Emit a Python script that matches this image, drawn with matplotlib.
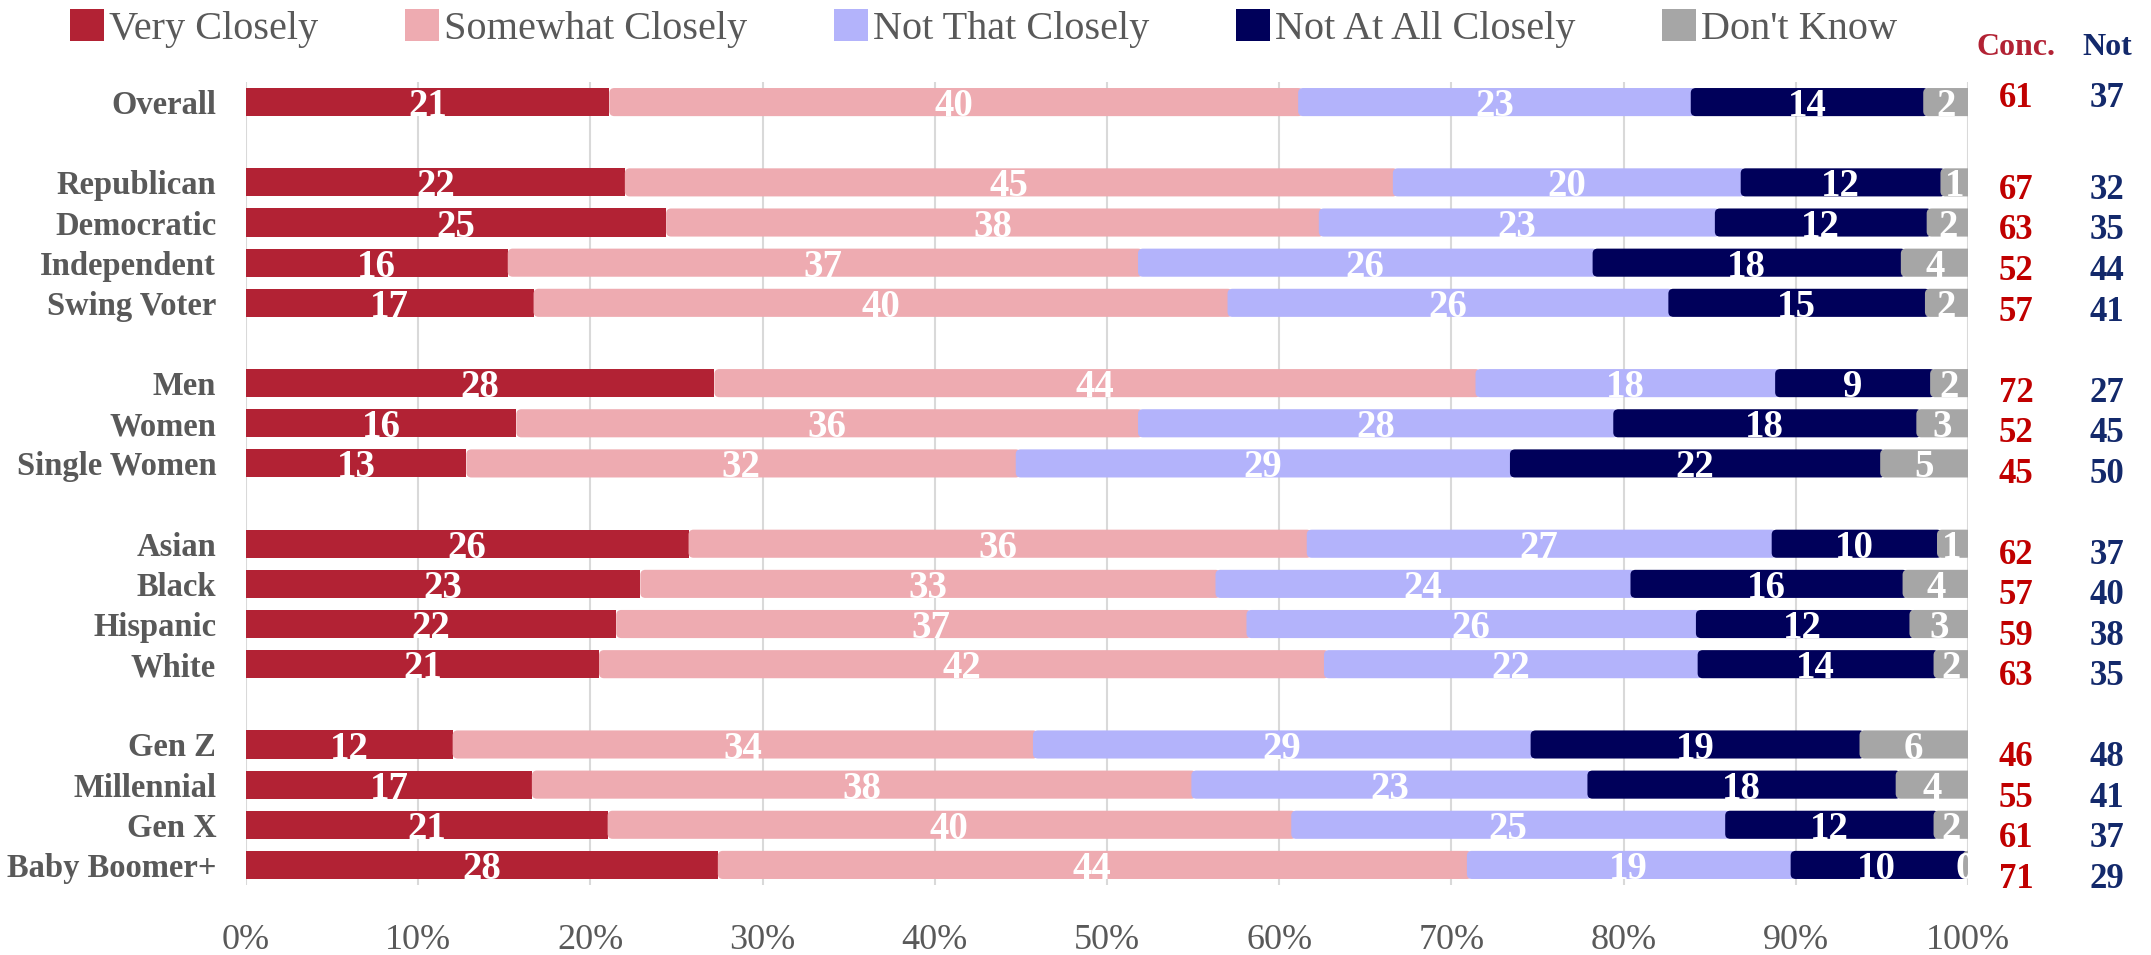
import matplotlib
matplotlib.use("Agg")
import matplotlib.pyplot as plt
from matplotlib.patches import Patch, FancyBboxPatch

# ---------------- data ----------------
categories = ["Overall",
              "Republican", "Democratic", "Independent", "Swing Voter",
              "Men", "Women", "Single Women",
              "Asian", "Black", "Hispanic", "White",
              "Gen Z", "Millennial", "Gen X", "Baby Boomer+"]
group_sizes = [1, 4, 3, 4, 4]

series_names = ["Very Closely", "Somewhat Closely", "Not That Closely",
                "Not At All Closely", "Don't Know"]

# segment widths (percent)
very     = [21.1, 22.0, 24.4, 15.2, 16.7, 27.2, 15.7, 12.8, 25.7, 22.9, 21.5, 20.5, 12.0, 16.6, 21.0, 27.4]
somewhat = [40.0, 44.6, 37.9, 36.6, 40.3, 44.2, 36.1, 31.9, 35.9, 33.4, 36.6, 42.1, 33.7, 38.3, 39.7, 43.5]
not_that = [22.8, 20.2, 23.0, 26.4, 25.6, 17.4, 27.6, 28.7, 27.0, 24.1, 26.1, 21.7, 28.9, 23.0, 25.2, 18.8]
not_all  = [13.5, 11.6, 12.3, 17.9, 14.9,  9.0, 17.6, 21.5,  9.6, 15.8, 12.4, 13.7, 19.1, 17.9, 12.1, 10.0]
dont_know= [ 2.6,  1.6,  2.5,  4.0,  2.5,  2.2,  3.0,  5.1,  1.7,  3.9,  3.4,  2.0,  6.3,  4.2,  2.0,  0.3]

# value labels printed on the segments
very_lbl     = [21, 22, 25, 16, 17, 28, 16, 13, 26, 23, 22, 21, 12, 17, 21, 28]
somewhat_lbl = [40, 45, 38, 37, 40, 44, 36, 32, 36, 33, 37, 42, 34, 38, 40, 44]
not_that_lbl = [23, 20, 23, 26, 26, 18, 28, 29, 27, 24, 26, 22, 29, 23, 25, 19]
not_all_lbl  = [14, 12, 12, 18, 15,  9, 18, 22, 10, 16, 12, 14, 19, 18, 12, 10]
dont_know_lbl= [ 2,  1,  2,  4,  2,  2,  3,  5,  1,  4,  3,  2,  6,  4,  2,  0]

conc_total = [61, 67, 63, 52, 57, 72, 52, 45, 62, 57, 59, 63, 46, 55, 61, 71]
not_total  = [37, 32, 35, 44, 41, 27, 45, 50, 37, 40, 38, 35, 48, 41, 37, 29]

xticks = [0, 10, 20, 30, 40, 50, 60, 70, 80, 90, 100]
xtick_labels = [f"{t}%" for t in xticks]

# ---------------- style ----------------
colors = ["#B22234", "#EEABB1", "#B3B3FB", "#00005A", "#A6A6A6"]
gray_txt = "#595959"
red_txt = "#C00000"
red_head = "#B22234"
navy_txt = "#13296B"

plt.rcParams["font.family"] = ["Liberation Serif", "DejaVu Serif"]

W, H = 2151, 955
fig = plt.figure(figsize=(W / 100, H / 100), dpi=100)
ax = fig.add_axes([246 / W, 1 - 885 / H, (1968 - 246) / W, (885 - 82) / H])

# slot positions (one empty slot between groups)
slots = []
s = 0
for g in group_sizes:
    for _ in range(g):
        slots.append(s)
        s += 1
    s += 1

series = [very, somewhat, not_that, not_all, dont_know]
labels = [very_lbl, somewhat_lbl, not_that_lbl, not_all_lbl, dont_know_lbl]

r_x = 0.29          # corner radius in x data units (~5 px)
aspect = 0.43       # keeps the corner round given the axes scaling

left = [0.0] * len(categories)
bar_h = 0.7
for k, (vals, lbls, col, name) in enumerate(zip(series, labels, colors, series_names)):
    bars = ax.barh(slots, vals, left=left, height=bar_h, color=col, label=name,
                   zorder=2, linewidth=0)
    if k > 0:
        # segments after the first have rounded left corners overlapping the previous one
        for rect in bars:
            rect.set_visible(False)
            fb = FancyBboxPatch((rect.get_x(), rect.get_y()),
                                rect.get_width() + r_x, rect.get_height(),
                                boxstyle=f"round,pad=0,rounding_size={r_x}",
                                mutation_aspect=aspect, facecolor=col,
                                edgecolor="none", zorder=2 + 0.01 * k)
            ax.add_patch(fb)
    for y, v, l, lb in zip(slots, vals, left, lbls):
        ax.text(l + v / 2, y + 0.35, f"{lb}", ha="center", va="baseline",
                color="white", fontsize=28, fontweight="bold", zorder=3,
                clip_on=True)
    left = [a + b for a, b in zip(left, vals)]

ax.set_xlim(0, 100)
ax.set_ylim(19.5, -0.5)
ax.set_xticks(xticks)
ax.set_xticklabels(xtick_labels, fontsize=26, color=gray_txt)
ax.set_yticks(slots)
ax.set_yticklabels(categories, fontsize=23.5, fontweight="bold", color=gray_txt)
ax.tick_params(axis="x", length=0, pad=28)
ax.tick_params(axis="y", length=0, pad=21.5)
for sp in ax.spines.values():
    sp.set_visible(False)
ax.grid(axis="x", color="#D9D9D9", linewidth=1.5, zorder=0)
ax.set_axisbelow(True)

# right-hand summary columns
slot_px = 40.12
top_px = 102.2
x_conc = (2016 - 246) / 17.22
x_not = (2107 - 246) / 17.22
ax.text(x_conc, (55 - top_px) / slot_px, "Conc.", ha="center", va="baseline",
        fontsize=23, fontweight="bold", color=red_head, clip_on=False)
ax.text(x_not, (55 - top_px) / slot_px, "Not", ha="center", va="baseline",
        fontsize=23, fontweight="bold", color=navy_txt, clip_on=False)
for y, c, n in zip(slots, conc_total, not_total):
    if y == 0:
        base_px = 107
    else:
        base_px = 199 + (y - 2) * 40.5
    yy = (base_px - top_px) / slot_px
    ax.text(x_conc, yy, f"{c}", ha="center", va="baseline", fontsize=25,
            fontweight="bold", color=red_txt, clip_on=False)
    ax.text(x_not, yy, f"{n}", ha="center", va="baseline", fontsize=25,
            fontweight="bold", color=navy_txt, clip_on=False)

# legend
handles = [Patch(facecolor=c, edgecolor="none") for c in colors]
fig.legend(handles, series_names, loc="center left",
           bbox_to_anchor=(70 / W, 1 - 28.5 / H), ncol=5, frameon=False,
           fontsize=29, labelcolor=gray_txt, borderpad=0, borderaxespad=0,
           handlelength=0.85, handleheight=0.82, handletextpad=0.12,
           columnspacing=2.15)

fig.savefig("out.png", dpi=100)
